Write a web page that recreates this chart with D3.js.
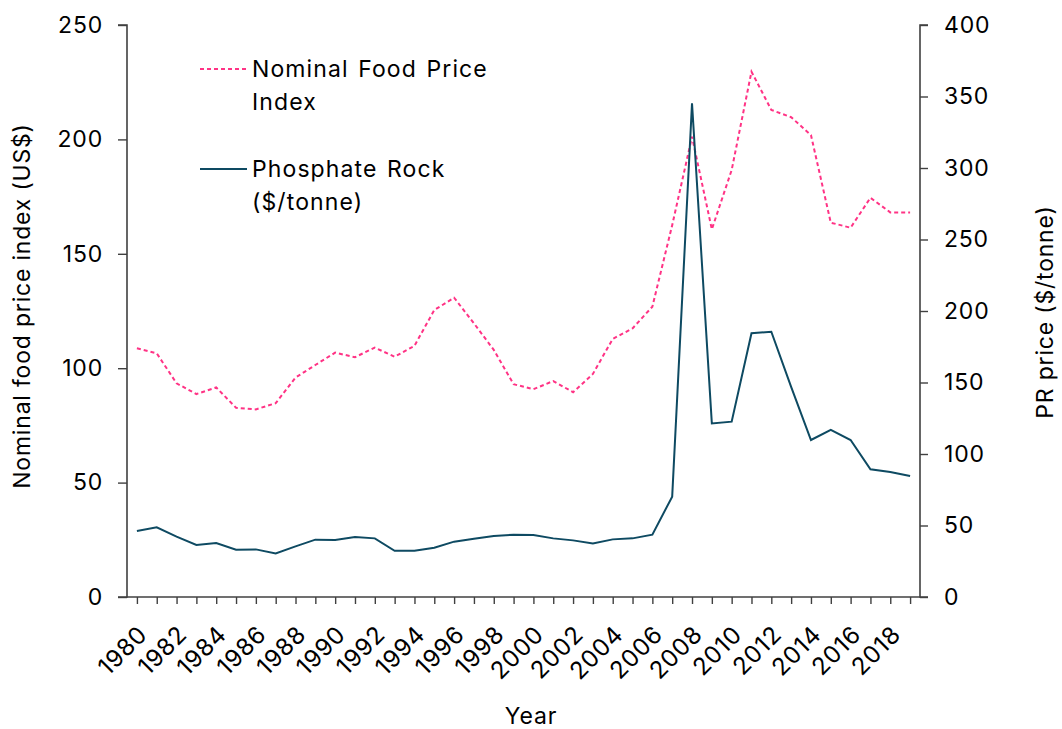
<!DOCTYPE html>
<html><head><meta charset="utf-8">
<script src="https://cdn.jsdelivr.net/npm/d3@7"></script>
<style>
body{margin:0;background:#fff;}
text{font-family:Inter, "Noto Sans", sans-serif;fill:#000;letter-spacing:0.8px;}
</style></head>
<body>
<svg id="chart" width="1062" height="729"></svg>
<script>
const years = d3.range(1980, 2020);
const foodIndex = [108.7,106.5,93.4,88.7,91.6,82.7,82.0,84.7,95.9,101.4,106.8,104.8,109.0,105.0,109.8,125.4,130.8,119.6,108.0,93.0,90.8,94.4,89.5,97.5,112.8,117.4,126.9,162.5,201.2,160.7,186.6,229.6,212.9,209.7,201.9,163.6,161.4,174.5,168.1,168.1];
const prPrice = [46.2,48.7,42.2,36.4,37.8,33.1,33.3,30.5,35.4,40.1,39.9,42.0,41.0,32.3,32.4,34.5,38.7,40.8,42.7,43.6,43.4,41.0,39.6,37.5,40.3,41.0,43.6,70.2,345.2,121.4,122.6,184.4,185.5,147.0,109.8,116.8,109.8,89.3,87.4,84.6];
const leftTicks = [0,50,100,150,200,250];
const rightTicks = [0,50,100,150,200,250,300,350,400];
const labelYears = d3.range(1980, 2019, 2);
const legendItems = [
  {lines:["Nominal Food Price","Index"], key:"food"},
  {lines:["Phosphate Rock","($/tonne)"], key:"pr"}
];

const pink = "#FF3385", teal = "#0E4A62", axisCol = "#404040";
const FS = 23;
const svg = d3.select("#chart");
const x = d3.scaleLinear().domain([1979.5, 2019.5]).range([127, 920]);
const yL = d3.scaleLinear().domain([0, 250]).range([597, 25]);
const yR = d3.scaleLinear().domain([0, 400]).range([597, 25]);

// axes
const gL = svg.append("g").attr("transform","translate(127,0)")
  .call(d3.axisLeft(yL).tickValues(leftTicks).tickSize(9).tickPadding(15));
const gR = svg.append("g").attr("transform","translate(920,0)")
  .call(d3.axisRight(yR).tickValues(rightTicks).tickSize(8).tickPadding(16));
const gX = svg.append("g").attr("transform","translate(0,597)")
  .call(d3.axisBottom(x).tickValues(years).tickSize(7).tickFormat(""));
[gL,gR,gX].forEach(g=>{
  g.select(".domain").attr("stroke",axisCol).attr("stroke-width",1.6);
  g.selectAll(".tick line").attr("stroke",axisCol).attr("stroke-width",1.4);
  g.selectAll(".tick text").attr("font-size",FS).attr("font-family","Inter, sans-serif").attr("fill","#000");
});
gL.select(".domain").attr("d","M-9,25H0V597H-9");
gR.select(".domain").attr("d","M8,25H0V597H8");
gX.select(".domain").attr("d","M127,0H920");

// x labels
svg.append("g").selectAll("text").data(labelYears).join("text")
  .attr("transform", d=>`translate(${x(d)+6},630) rotate(-45)`)
  .attr("text-anchor","end").attr("dy","0.35em")
  .attr("font-size",24).text(d=>d);

// lines
const lineFood = d3.line().x((d,i)=>x(years[i])).y(d=>yL(d));
const linePR = d3.line().x((d,i)=>x(years[i])).y(d=>yR(d));
svg.append("path").datum(foodIndex).attr("d",lineFood).attr("fill","none")
  .attr("stroke",pink).attr("stroke-width",2).attr("stroke-dasharray","4,3");
svg.append("path").datum(prPrice).attr("d",linePR).attr("fill","none")
  .attr("stroke",teal).attr("stroke-width",2).attr("stroke-linejoin","miter");

// axis titles
svg.append("text").attr("transform","translate(30,306) rotate(-90)")
  .attr("text-anchor","middle").attr("font-size",FS).text("Nominal food price index (US$)");
svg.append("text").attr("transform","translate(1053,312) rotate(-90)")
  .attr("text-anchor","middle").attr("font-size",FS).text("PR price ($/tonne)");
svg.append("text").attr("x",531).attr("y",724).attr("text-anchor","middle")
  .attr("font-size",FS).text("Year");

// legend
const lg = svg.append("g");
legendItems.forEach((it,i)=>{
  const ly = 69 + i*100;
  lg.append("line").attr("x1",200).attr("x2",247).attr("y1",ly).attr("y2",ly)
    .attr("stroke", it.key==="food"?pink:teal).attr("stroke-width",2)
    .attr("stroke-dasharray", it.key==="food"?"4,3":null);
  it.lines.forEach((t,j)=>{
    lg.append("text").attr("x",252).attr("y",ly+8+j*32.5).attr("font-size",FS)
      .style("letter-spacing","1.1px").attr("word-spacing","2px").text(t);
  });
});
</script>
</body></html>
